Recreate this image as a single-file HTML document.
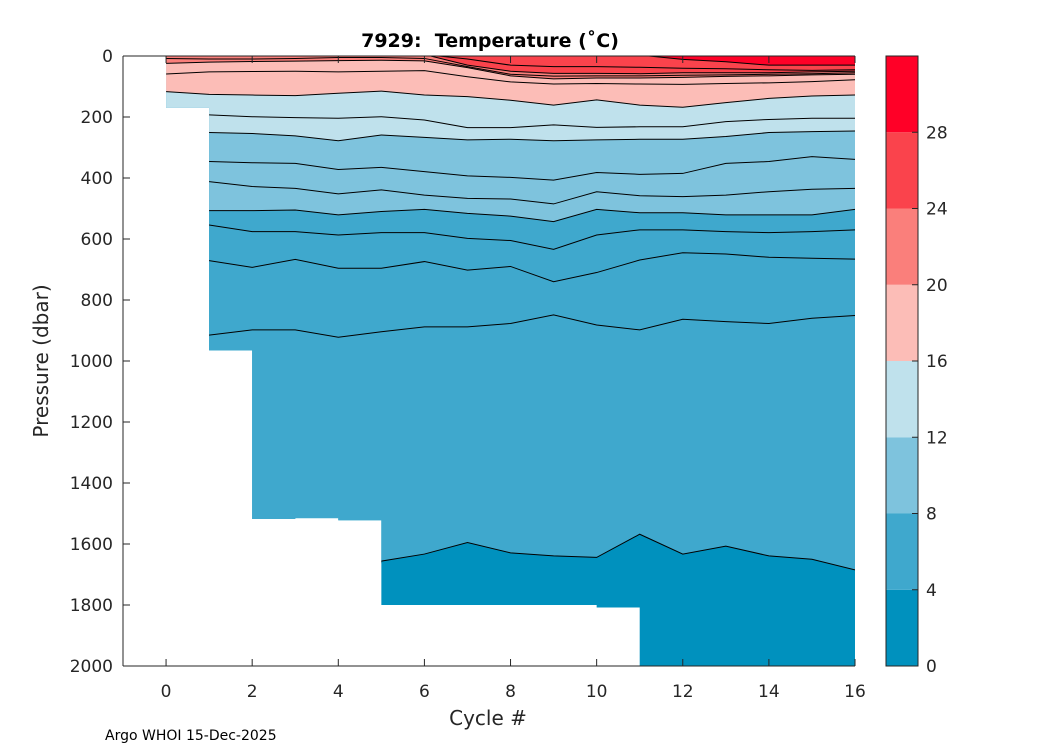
<!DOCTYPE html>
<html><head><meta charset="utf-8"><style>
html,body{margin:0;padding:0;background:#fff;}
svg{display:block;font-family:"DejaVu Sans","Liberation Sans",sans-serif;}
</style></head><body>
<svg id="chart" width="1050" height="750" viewBox="0 0 1050 750">
<defs><clipPath id="dataClip"><path id="clipPath" d=""/></clipPath></defs>
<text x="490" y="47" text-anchor="middle" font-size="19" font-weight="bold" style="white-space:pre">7929:  Temperature (˚C)</text>
<g id="plot" clip-path="url(#dataClip)"></g>
<g id="lines" clip-path="url(#dataClip)"></g>
<g id="axes"></g>
<g id="cbar"></g>
<text x="488" y="725" text-anchor="middle" font-size="20" fill="#262626">Cycle #</text>
<text transform="translate(48,361) rotate(-90)" text-anchor="middle" font-size="20" fill="#262626">Pressure (dbar)</text>
<text x="105" y="740" font-size="14" fill="#000">Argo WHOI 15-Dec-2025</text>
</svg>
<script>
const cycles = [0,1,2,3,4,5,6,7,8,9,10,11,12,13,14,15,16];
const maxDepth = [170,965,1518,1515,1522,1800,1800,1800,1800,1800,1808,2000,2000,2000,2000,2000,2000];
const iso28 = [-5,-5,-5,-5,-5,-5,-5,-5,-5,-5,-5,-3,11,19,30,30,30];
const iso26 = [-5,-5,-5,-5,-5,-5,-5,10,30,35,35,37,40,42,45,47,45];
const iso24 = [-5,-5,-5,-5,-5,-5,-5,30,50,57,57,58,55,55,55,52,50];
const iso22 = [8,10,10,8,5,5,8,35,60,66,65,65,63,62,60,58,55];
const iso20 = [24,20,18,17,15,14,16,38,65,75,72,72,70,67,65,62,60];
const iso18 = [59,52,51,50,52,50,48,68,85,92,90,92,93,90,88,84,78];
const iso16 = [117,126,128,130,122,115,128,133,145,161,144,161,168,153,139,131,128];
const iso14 = [190,193,199,202,204,199,210,235,235,226,234,232,232,215,208,204,204];
const iso12 = [250,251,254,262,278,259,267,275,273,278,275,273,273,264,251,248,246];
const iso10 = [345,346,350,352,372,365,379,393,398,407,382,388,385,352,346,330,339];
const iso9 = [410,412,428,434,452,439,456,467,469,485,445,458,461,456,445,437,434];
const iso8 = [507,507,507,505,521,510,503,516,525,543,503,514,514,521,521,521,503];
const iso7 = [554,554,576,576,587,579,579,598,605,634,587,570,570,576,579,576,570];
const iso6 = [671,671,693,667,696,696,674,702,690,740,710,669,645,649,660,663,666];
const iso5 = [915,915,898,898,922,904,888,888,877,849,882,898,863,871,877,860,851];
const iso4 = [2100,2100,2100,2100,2100,1656,1633,1595,1629,1639,1644,1568,1633,1607,1639,1650,1685];
const bandLevels = [4,8,12,16,20,24,28];
const bandColors = ["#0091be","#3fa8cd","#7ec3dd","#bfe1ec","#fcbdb7","#fa7f7b","#fa434c","#ff0027"];
const cbarTicks = [0,4,8,12,16,20,24,28];
const xTicks = [0,2,4,6,8,10,12,14,16];
const yTicks = [0,200,400,600,800,1000,1200,1400,1600,1800,2000];
const isoByLevel = {4:iso4,5:iso5,6:iso6,7:iso7,8:iso8,9:iso9,10:iso10,12:iso12,14:iso14,16:iso16,18:iso18,20:iso20,22:iso22,24:iso24,26:iso26,28:iso28};
const lineLevels = [4,5,6,7,8,9,10,12,14,16,18,20,22,24,26,28];

const NS = "http://www.w3.org/2000/svg";
const X0 = 123, X1 = 855, Y0 = 56, Y1 = 666;
const xs = c => X0 + (c + 1) / 17 * (X1 - X0);
const ys = p => Y0 + p / 2000 * (Y1 - Y0);
function mk(tag, attrs, parent){ const e = document.createElementNS(NS, tag); for (const k in attrs) e.setAttribute(k, attrs[k]); parent.appendChild(e); return e; }

let d = "M" + xs(cycles[0]) + "," + (Y0 + 0.5);
d += " L" + xs(cycles[cycles.length-1]) + "," + (Y0 + 0.5);
for (let i = cycles.length - 1; i >= 1; i--) {
  const dep = maxDepth[i-1];
  d += " L" + xs(cycles[i]) + "," + ys(Math.min(dep, 2000));
  d += " L" + xs(cycles[i-1]) + "," + ys(Math.min(dep, 2000));
}
d += " Z";
document.getElementById("clipPath").setAttribute("d", d);

const plot = document.getElementById("plot");
const base = mk("rect", {x: xs(0), y: ys(-10), width: xs(16) - xs(0), height: ys(2010) - ys(-10), fill: bandColors[0]}, plot);


bandLevels.forEach((lev, k) => {
  const arr = isoByLevel[lev];
  let p = "M" + xs(cycles[0]) + "," + ys(-10);
  cycles.forEach((c, i) => { p += " L" + xs(c) + "," + ys(arr[i]); });
  p += " L" + xs(cycles[cycles.length-1]) + "," + ys(-10) + " Z";
  const el = mk("path", {d: p, fill: bandColors[k+1]}, plot);
  
  
});
const lines = document.getElementById("lines");
lineLevels.forEach(lev => {
  const arr = isoByLevel[lev];
  const pts = cycles.map((c, i) => xs(c) + "," + ys(arr[i])).join(" ");
  const el = mk("polyline", {points: pts, fill: "none", stroke: "#000", "stroke-width": 1}, lines);
  
  
});

const axes = document.getElementById("axes");
mk("line", {x1: X0, y1: Y0, x2: X0, y2: Y1, stroke: "#262626", "stroke-width": 1}, axes);
mk("line", {x1: X0, y1: Y1, x2: X1, y2: Y1, stroke: "#262626", "stroke-width": 1}, axes);
mk("line", {x1: X0, y1: Y0, x2: X1, y2: Y0, stroke: "#262626", "stroke-width": 1}, axes);
xTicks.forEach(t => {
  const x = xs(t);
  mk("line", {x1: x, y1: Y1, x2: x, y2: Y1 - 7, stroke: "#262626"}, axes);
  mk("line", {x1: x, y1: Y0, x2: x, y2: Y0 + 7, stroke: "#262626"}, axes);
  const tx = mk("text", {x: x, y: 697, "text-anchor": "middle", "font-size": 17, fill: "#262626"}, axes);
  tx.textContent = t;
  
  
});
yTicks.forEach(t => {
  const y = ys(t);
  mk("line", {x1: X0, y1: y, x2: X0 + 7, y2: y, stroke: "#262626"}, axes);
  const tx = mk("text", {x: 113, y: y + 6, "text-anchor": "end", "font-size": 17, fill: "#262626"}, axes);
  tx.textContent = t;
  
  
});

const cb = document.getElementById("cbar");
const CX0 = 886, CX1 = 918;
const cy = v => Y1 - v / 32 * (Y1 - Y0);
bandColors.forEach((col, k) => {
  const lo = k * 4, hi = lo + 4;
  const r = mk("rect", {x: CX0, y: cy(hi), width: CX1 - CX0, height: cy(lo) - cy(hi), fill: col}, cb);
  
  
});
mk("rect", {x: CX0, y: Y0, width: CX1 - CX0, height: Y1 - Y0, fill: "none", stroke: "#262626"}, cb);
cbarTicks.forEach(t => {
  const y = cy(t);
  mk("line", {x1: CX1, y1: y, x2: CX1 - 6, y2: y, stroke: "#262626"}, cb);
  const tx = mk("text", {x: 926, y: y + 6, "font-size": 17, fill: "#262626"}, cb);
  tx.textContent = t;
  
  
});
</script>
</body></html>
